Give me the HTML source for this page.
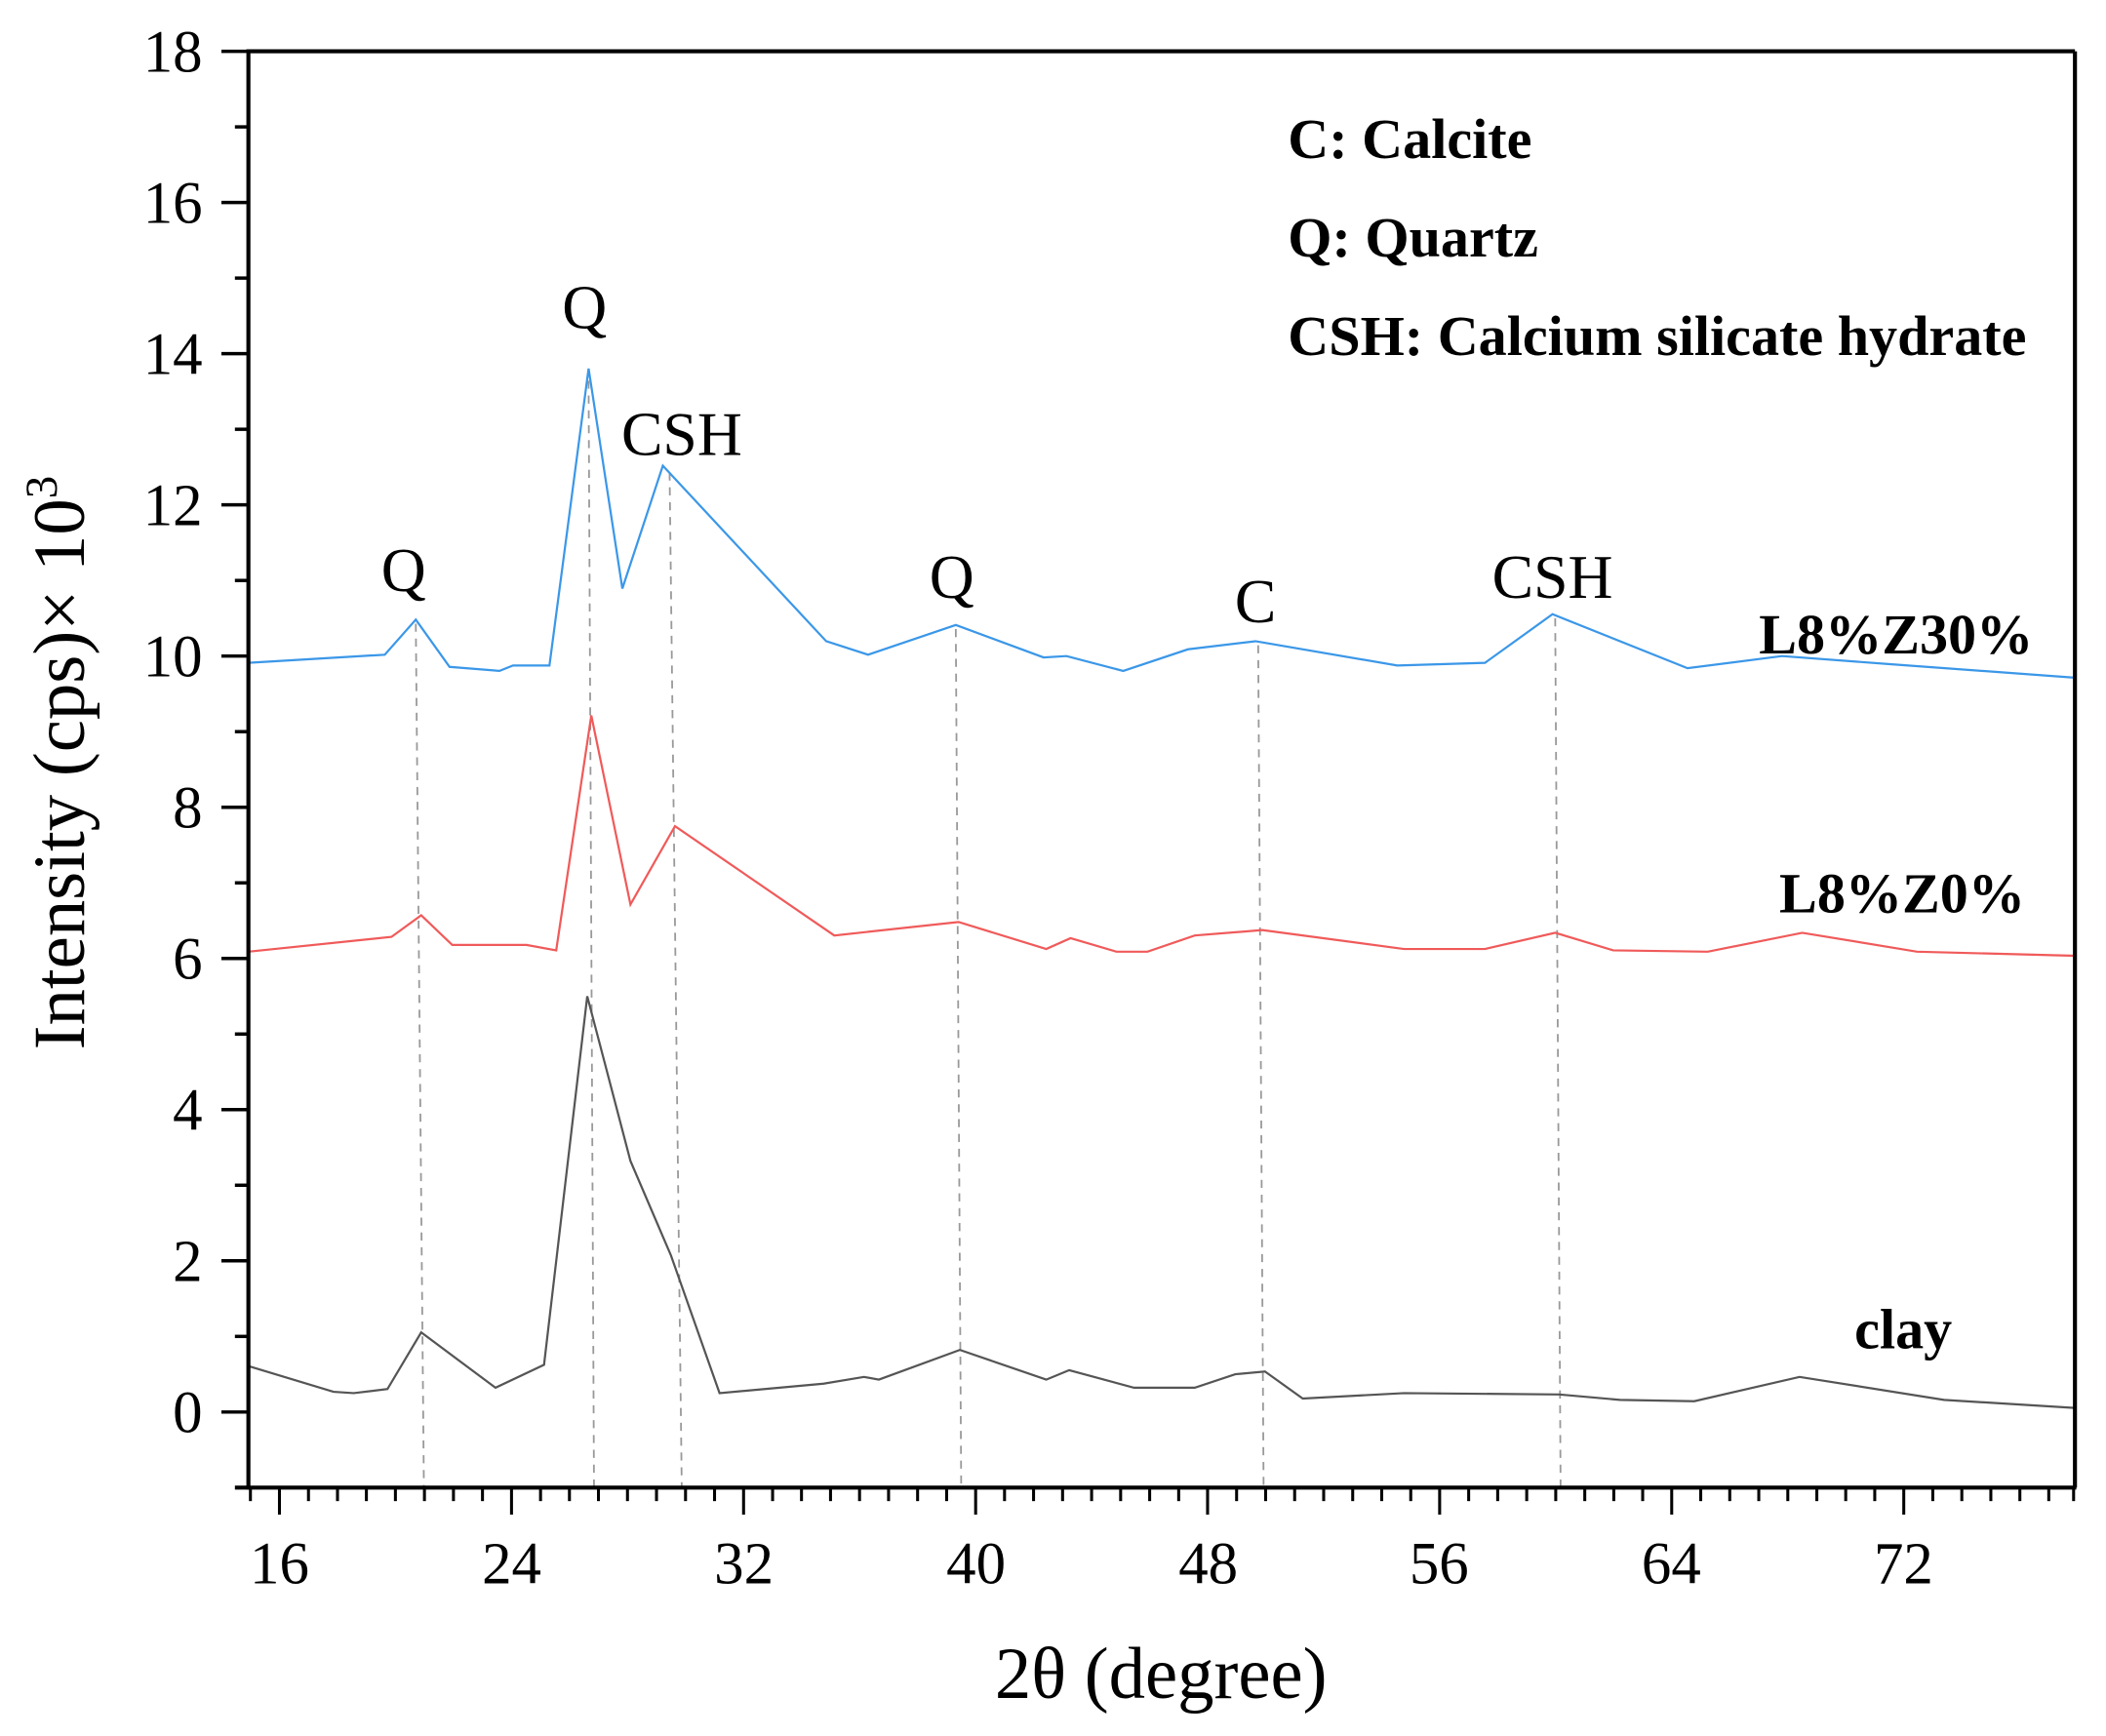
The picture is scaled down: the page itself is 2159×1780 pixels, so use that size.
<!DOCTYPE html>
<html><head><meta charset="utf-8"><style>
html,body{margin:0;padding:0;background:#fff;}
svg{display:block;}
text{font-family:"Liberation Serif",serif;fill:#000;}
</style></head><body>
<svg width="2159" height="1780" viewBox="0 0 1560 1286" preserveAspectRatio="none" xmlns="http://www.w3.org/2000/svg">
<rect width="1560" height="1286" fill="#fff"/>
<g stroke="#999" stroke-width="1.3" stroke-dasharray="6,5" fill="none">
<line x1="308" y1="462" x2="314" y2="1102"/>
<line x1="436" y1="282" x2="440" y2="1102"/>
<line x1="496" y1="350" x2="505" y2="1102"/>
<line x1="708" y1="466" x2="712" y2="1102"/>
<line x1="932" y1="478" x2="936" y2="1102"/>
<line x1="1152" y1="458" x2="1156" y2="1102"/>
</g>
<polyline fill="none" stroke="#3b97e8" stroke-width="1.6" points="184,491 285,485 308,459 333,494 370,497 380,493 407,493 436,273 461,436 491,345 612,475 643,485 708,463 773,487 790,486 832,497 880,481 930,475 1035,493 1100,491 1150,455 1250,495 1320,486 1400,492 1537,502"/>
<polyline fill="none" stroke="#f05a5a" stroke-width="1.6" points="184,705 290,694 312,678 335,700 390,700 412,704 438,530 467,670 500,612 618,693 710,683 775,703 793,695 827,705 850,705 885,693 935,689 1040,703 1100,703 1152,691 1195,704 1265,705 1335,691 1420,705 1537,708"/>
<polyline fill="none" stroke="#555" stroke-width="1.6" points="184,1012 247,1031 262,1032 287,1029 312,987 367,1028 403,1011 435,738 467,860 497,930 533,1032 610,1025 640,1020 651,1022 711,1000 775,1022 792,1015 840,1028 885,1028 915,1018 937,1016 965,1036 1040,1032 1155,1033 1200,1037 1255,1038 1333,1020 1440,1037 1537,1043"/>
<g stroke="#000" stroke-width="3" fill="none">
<line x1="184" y1="38" x2="1537" y2="38"/>
<line x1="1537" y1="38" x2="1537" y2="1102"/>
<line x1="184" y1="36.5" x2="184" y2="1103.5"/>
<line x1="174" y1="1102" x2="1538" y2="1102"/>
</g>
<g stroke="#000" stroke-width="2.5">
<line x1="164" y1="38" x2="184" y2="38"/><line x1="174" y1="94" x2="184" y2="94"/>
<line x1="164" y1="150" x2="184" y2="150"/><line x1="174" y1="206" x2="184" y2="206"/>
<line x1="164" y1="262" x2="184" y2="262"/><line x1="174" y1="318" x2="184" y2="318"/>
<line x1="164" y1="374" x2="184" y2="374"/><line x1="174" y1="430" x2="184" y2="430"/>
<line x1="164" y1="486" x2="184" y2="486"/><line x1="174" y1="542" x2="184" y2="542"/>
<line x1="164" y1="598" x2="184" y2="598"/><line x1="174" y1="654" x2="184" y2="654"/>
<line x1="164" y1="710" x2="184" y2="710"/><line x1="174" y1="766" x2="184" y2="766"/>
<line x1="164" y1="822" x2="184" y2="822"/><line x1="174" y1="878" x2="184" y2="878"/>
<line x1="164" y1="934" x2="184" y2="934"/><line x1="174" y1="990" x2="184" y2="990"/>
<line x1="164" y1="1046" x2="184" y2="1046"/>
</g>
<g stroke="#000" stroke-width="2.2">
<line x1="185.5" y1="1102" x2="185.5" y2="1112"/><line x1="207" y1="1102" x2="207" y2="1122"/><line x1="228.5" y1="1102" x2="228.5" y2="1112"/><line x1="250" y1="1102" x2="250" y2="1112"/><line x1="271.4" y1="1102" x2="271.4" y2="1112"/><line x1="292.9" y1="1102" x2="292.9" y2="1112"/><line x1="314.4" y1="1102" x2="314.4" y2="1112"/><line x1="335.9" y1="1102" x2="335.9" y2="1112"/><line x1="357.4" y1="1102" x2="357.4" y2="1112"/><line x1="378.9" y1="1102" x2="378.9" y2="1122"/><line x1="400.4" y1="1102" x2="400.4" y2="1112"/><line x1="421.8" y1="1102" x2="421.8" y2="1112"/><line x1="443.3" y1="1102" x2="443.3" y2="1112"/><line x1="464.8" y1="1102" x2="464.8" y2="1112"/><line x1="486.3" y1="1102" x2="486.3" y2="1112"/><line x1="507.8" y1="1102" x2="507.8" y2="1112"/><line x1="529.3" y1="1102" x2="529.3" y2="1112"/><line x1="550.8" y1="1102" x2="550.8" y2="1122"/><line x1="572.3" y1="1102" x2="572.3" y2="1112"/><line x1="593.7" y1="1102" x2="593.7" y2="1112"/><line x1="615.2" y1="1102" x2="615.2" y2="1112"/><line x1="636.7" y1="1102" x2="636.7" y2="1112"/><line x1="658.2" y1="1102" x2="658.2" y2="1112"/><line x1="679.7" y1="1102" x2="679.7" y2="1112"/><line x1="701.2" y1="1102" x2="701.2" y2="1112"/><line x1="722.7" y1="1102" x2="722.7" y2="1122"/><line x1="744.1" y1="1102" x2="744.1" y2="1112"/><line x1="765.6" y1="1102" x2="765.6" y2="1112"/><line x1="787.1" y1="1102" x2="787.1" y2="1112"/><line x1="808.6" y1="1102" x2="808.6" y2="1112"/><line x1="830.1" y1="1102" x2="830.1" y2="1112"/><line x1="851.6" y1="1102" x2="851.6" y2="1112"/><line x1="873.1" y1="1102" x2="873.1" y2="1112"/><line x1="894.5" y1="1102" x2="894.5" y2="1122"/><line x1="916" y1="1102" x2="916" y2="1112"/><line x1="937.5" y1="1102" x2="937.5" y2="1112"/><line x1="959" y1="1102" x2="959" y2="1112"/><line x1="980.5" y1="1102" x2="980.5" y2="1112"/><line x1="1002" y1="1102" x2="1002" y2="1112"/><line x1="1023.5" y1="1102" x2="1023.5" y2="1112"/><line x1="1045" y1="1102" x2="1045" y2="1112"/><line x1="1066.4" y1="1102" x2="1066.4" y2="1122"/><line x1="1087.9" y1="1102" x2="1087.9" y2="1112"/><line x1="1109.4" y1="1102" x2="1109.4" y2="1112"/><line x1="1130.9" y1="1102" x2="1130.9" y2="1112"/><line x1="1152.4" y1="1102" x2="1152.4" y2="1112"/><line x1="1173.9" y1="1102" x2="1173.9" y2="1112"/><line x1="1195.4" y1="1102" x2="1195.4" y2="1112"/><line x1="1216.8" y1="1102" x2="1216.8" y2="1112"/><line x1="1238.3" y1="1102" x2="1238.3" y2="1122"/><line x1="1259.8" y1="1102" x2="1259.8" y2="1112"/><line x1="1281.3" y1="1102" x2="1281.3" y2="1112"/><line x1="1302.8" y1="1102" x2="1302.8" y2="1112"/><line x1="1324.3" y1="1102" x2="1324.3" y2="1112"/><line x1="1345.8" y1="1102" x2="1345.8" y2="1112"/><line x1="1367.2" y1="1102" x2="1367.2" y2="1112"/><line x1="1388.7" y1="1102" x2="1388.7" y2="1112"/><line x1="1410.2" y1="1102" x2="1410.2" y2="1122"/><line x1="1431.7" y1="1102" x2="1431.7" y2="1112"/><line x1="1453.2" y1="1102" x2="1453.2" y2="1112"/><line x1="1474.7" y1="1102" x2="1474.7" y2="1112"/><line x1="1496.2" y1="1102" x2="1496.2" y2="1112"/><line x1="1517.6" y1="1102" x2="1517.6" y2="1112"/><line x1="1536" y1="1102" x2="1536" y2="1112"/>
</g>
<g font-size="44" text-anchor="end">
<text x="150" y="53">18</text><text x="150" y="165">16</text><text x="150" y="277">14</text>
<text x="150" y="389">12</text><text x="150" y="501">10</text><text x="150" y="613">8</text>
<text x="150" y="725">6</text><text x="150" y="837">4</text><text x="150" y="949">2</text>
<text x="150" y="1061">0</text>
</g>
<g font-size="44" text-anchor="middle">
<text x="207" y="1173">16</text><text x="379" y="1173">24</text><text x="551" y="1173">32</text>
<text x="723" y="1173">40</text><text x="895" y="1173">48</text><text x="1066" y="1173">56</text>
<text x="1238" y="1173">64</text><text x="1410" y="1173">72</text>
</g>
<text x="860" y="1258" font-size="54" text-anchor="middle">2θ (degree)</text>
<text transform="translate(62,565) rotate(-90)" font-size="54" text-anchor="middle">Intensity (cps)× 10<tspan dy="-20" font-size="34">3</tspan></text>
<g font-size="46" text-anchor="middle">
<text x="299" y="438">Q</text><text x="433" y="243">Q</text><text x="505" y="337">CSH</text>
<text x="705" y="443">Q</text><text x="930" y="461">C</text><text x="1150" y="443">CSH</text>
</g>
<g font-size="42" font-weight="bold">
<text x="954" y="117">C: Calcite</text>
<text x="954" y="190">Q: Quartz</text>
<text x="954" y="263">CSH: Calcium silicate hydrate</text>
<text x="1506" y="484" text-anchor="end">L8%Z30%</text>
<text x="1500" y="676" text-anchor="end">L8%Z0%</text>
<text x="1446" y="999" text-anchor="end">clay</text>
</g>
</svg>
</body></html>
